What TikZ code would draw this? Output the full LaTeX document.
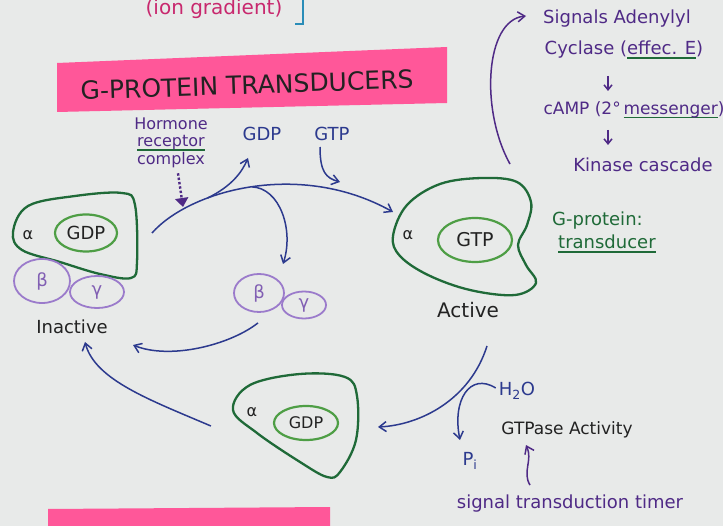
\documentclass[tikz,border=0pt]{standalone}
\usepackage{fontspec}
\setmainfont{DejaVu Sans}
\usetikzlibrary{arrows.meta,positioning,shapes.geometric,calc}
\definecolor{paper}{HTML}{E8EAE9}
\definecolor{pinkhl}{HTML}{FF5799}
\definecolor{navyink}{HTML}{2C3A8E}
\definecolor{purpleink}{HTML}{4F2A86}
\definecolor{darkgreen}{HTML}{1F6A38}
\definecolor{lightgreen}{HTML}{4E9E45}
\definecolor{lavender}{HTML}{9B7BCB}
\definecolor{magentaink}{HTML}{C8286E}
\definecolor{tealink}{HTML}{2A8DB8}
\definecolor{inkblack}{HTML}{222222}
\newcommand{\greenul}[1]{\setbox0=\hbox{#1}\rlap{\color{darkgreen}\rule[-4pt]{\wd0}{1.8pt}}\box0}
\newcommand{\fs}[1]{\fontsize{#1}{#1}\selectfont}
\tikzset{
  handtext/.style={inner sep=0pt,font=\fs{18},text=inkblack},
  bluetext/.style={handtext,text=navyink},
  purpletext/.style={handtext,text=purpleink},
  greentext/.style={handtext,text=darkgreen},
  shell/.style={draw=darkgreen,line width=2.3pt,line join=round},
  pocket/.style={ellipse,draw=lightgreen,line width=2.2pt,inner sep=0pt,font=\fs{17},text=inkblack},
  subunit/.style={ellipse,draw=lavender,line width=1.8pt,inner sep=0pt,font=\fs{18},text=lavender!65!purpleink},
  bluearrow/.style={-{Straight Barb[length=7pt,width=10pt]},draw=navyink,line width=1.5pt},
  purplearrow/.style={-{Straight Barb[length=7pt,width=10pt]},draw=purpleink,line width=1.5pt}
}

\begin{document}
\begin{tikzpicture}[x=1pt,y=-1pt]
\useasboundingbox (0,0) rectangle (723,526);
\clip (0,0) rectangle (723,526);
\fill[paper] (0,0) rectangle (723,526);

% top scraps
\node[handtext,text=magentaink,font=\fs{20},anchor=base] (iongrad) at (214,15) {(ion gradient)};
\draw[tealink,line width=1.8pt] (303,0) -- (303,24) -- (295,24);
\fill[pinkhl] (57,63) -- (447,47) -- (447,103) -- (57,112) -- cycle;
\node[handtext,font=\fs{25},rotate=2] (title) at (247,85) {G-PROTEIN TRANSDUCERS};
\fill[pinkhl] (48,509) -- (330,507) -- (330,526) -- (48,526) -- cycle;

% inactive G-protein
\draw[shell] plot[smooth cycle,tension=0.6] coordinates {(13,232) (28,206) (75,196) (122,193) (135,205) (137,262) (131,278) (100,274) (60,262) (22,250)};
\node[handtext,font=\fs{16}] (alphaone) at (28,235) {α};
\node[pocket,minimum width=62pt,minimum height=37pt,font=\fs{18}] (gdpone) at (86,233) {GDP};
\node[subunit,minimum width=56pt,minimum height=44pt] (betaone) at (42,281) {β};
\node[subunit,minimum width=54pt,minimum height=32pt] (gammaone) at (97,292) {γ};
\node[handtext] (inactive) at (72,327) {Inactive};

% hormone receptor complex
\node[purpletext,font=\fs{16},align=center] (hormone) at (171,143) {Hormone\\[1pt]\greenul{receptor}\\[1pt]complex};
\draw[purpleink,dotted,line width=2.4pt,-{Triangle[length=9pt,width=13pt]}] (hormone.south) ++(7,5) coordinate (hormtail) -- (183,207) coordinate (hormtip);
\node[bluetext] (gdpout) at (262,134) {GDP};
\node[bluetext] (gtpin) at (332,134) {GTP};

% activation path
\coordinate (inactstart) at (152,233);
\coordinate (activetip) at (393,212);
\coordinate (gdptip) at (248,158);
\coordinate (gtptip) at (340,182);
\coordinate (bgtip) at (283,264);
\draw[bluearrow] (inactstart) .. controls (190,190) and (300,160) .. (activetip)
  coordinate[pos=0.32] (gdpfork) coordinate[pos=0.5] (bgfork);
\draw[bluearrow] (gdpfork) .. controls (232,186) and (242,172) .. (gdptip);
\draw[bluearrow] (gtpin.south) ++(-12,6) .. controls (320,172) and (326,178) .. (gtptip);
\draw[bluearrow] (bgfork) .. controls (280,188) and (294,230) .. (bgtip);

% free beta gamma
\node[subunit,minimum width=50pt,minimum height=38pt] (betafree) at (259,293) {β};
\node[subunit,minimum width=44pt,minimum height=27pt] (gammafree) at (304,305) {γ};
\coordinate (inacttipa) at (133,345);
\draw[bluearrow] (betafree.south) ++(-1,10) .. controls (230,345) and (170,360) .. (inacttipa);

% active G-protein
\draw[shell] plot[smooth cycle,tension=0.6] coordinates {(393,236) (407,205) (440,184) (482,178) (517,182) (531,202) (527,225) (518,245) (526,265) (536,283) (515,295) (470,290) (428,275) (400,256)};
\node[handtext,font=\fs{16}] (alphatwo) at (408,235) {α};
\node[pocket,minimum width=74pt,minimum height=44pt,font=\fs{19}] (gtptwo) at (475,240) {GTP};
\node[handtext,font=\fs{20}] (active) at (468,310) {Active};
\node[greentext,anchor=west] (gprotein) at (552,221) {G-protein:};
\node[greentext,anchor=west] (transducer) at (558,244) {\greenul{transducer}};

% effector cascade
\node[purpletext] (signals) at (617,19) {Signals Adenylyl};
\node[purpletext] (cyclase) at (624,50) {Cyclase (\greenul{effec. E})};
\node[purpletext,font=\fs{17}] (camp) at (634,110) {cAMP (2°\,\greenul{messenger})};
\node[purpletext] (kinase) at (643,165) {Kinase cascade};
\draw[purplearrow] (active.north) ++(42,-138) coordinate (signalstail) .. controls (480,110) and (485,20) .. (526,16) coordinate (signalstip);
\draw[purplearrow,-{Straight Barb[length=5pt,width=8pt]}] (608,76) -- (608,91);
\draw[purplearrow,-{Straight Barb[length=5pt,width=8pt]}] (608,130) -- (608,145);

% GTPase back to inactive
\draw[shell] plot[smooth cycle,tension=0.6] coordinates {(233,410) (250,385) (300,374) (345,377) (357,396) (356,440) (340,472) (327,477) (300,462) (257,433)};
\node[handtext,font=\fs{16}] (alphathree) at (252,412) {α};
\node[pocket,minimum width=64pt,minimum height=34pt,font=\fs{16}] (gdpthree) at (306,423) {GDP};
\coordinate (gdpthreetip) at (378,427);
\coordinate (inacttipb) at (85,342);
\draw[bluearrow] (active.south) ++(19,28) .. controls (470,400) and (420,425) .. (gdpthreetip);
\draw[bluearrow] (gdpthree.west) ++(-62,3) .. controls (150,400) and (95,380) .. (inacttipb);

\node[bluetext] (water) at (517,391) {H\textsubscript{2}O};
\node[bluetext] (phosph) at (470,461) {P\textsubscript{i}};
\coordinate (pitip) at (460,440);
\draw[bluearrow] (water.west) ++(-3,-3) .. controls (470,372) and (452,400) .. (pitip);
\node[handtext,font=\fs{17}] (gtpase) at (567,430) {GTPase Activity};
\node[purpletext] (timer) at (570,504) {signal transduction timer};
\draw[purplearrow] (timer.north) ++(-40,-10) .. controls (522,472) and (533,460) .. (526,445) coordinate (timertip);
\end{tikzpicture}
\end{document}
